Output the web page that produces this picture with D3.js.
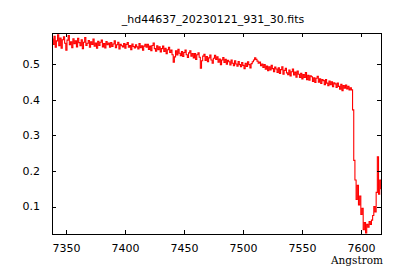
<!DOCTYPE html>
<html>
<head>
<meta charset="utf-8">
<script src="https://cdn.jsdelivr.net/npm/d3@7"></script>
<style>
  body { margin: 0; background: #fff; }
  svg { display: block; }
  text { fill: #000; }
</style>
</head>
<body>
<svg id="chart" width="400" height="280"></svg>
<script>
const title = '_hd44637_20230121_931_30.fits';
const xLabel = 'Angstrom';

const xTicks = [7350, 7400, 7450, 7500, 7550, 7600];
const yTicks = [0.1, 0.2, 0.3, 0.4, 0.5];

// continuum, 1 A sampling from 7338 to 7590
const contWave = d3.range(7338, 7591, 1);
const contFlux = [
    0.571, 0.556, 0.579, 0.548, 0.566, 0.583, 0.552, 0.574, 0.545, 0.569,
    0.577, 0.559, 0.540, 0.568, 0.581, 0.555, 0.563, 0.547, 0.572, 0.558,
    0.566, 0.549, 0.573, 0.561, 0.552, 0.569, 0.544, 0.562, 0.575, 0.553,
    0.559, 0.567, 0.548, 0.563, 0.556, 0.571, 0.551, 0.560, 0.545, 0.565,
    0.553, 0.562, 0.568, 0.549, 0.558, 0.546, 0.564, 0.555, 0.560, 0.548,
    0.561, 0.550, 0.557, 0.566, 0.547, 0.555, 0.562, 0.543, 0.556, 0.552,
    0.549, 0.558, 0.545, 0.556, 0.561, 0.548, 0.553, 0.541, 0.557, 0.550,
    0.546, 0.555, 0.549, 0.543, 0.558, 0.547, 0.552, 0.540, 0.551, 0.556,
    0.548, 0.556, 0.542, 0.551, 0.538, 0.553, 0.560, 0.544, 0.537, 0.552,
    0.541, 0.549, 0.535, 0.544, 0.551, 0.536, 0.545, 0.530, 0.541, 0.548,
    0.533, 0.540, 0.527, 0.506, 0.521, 0.538, 0.526, 0.542, 0.531, 0.524,
    0.536, 0.522, 0.533, 0.540, 0.527, 0.519, 0.532, 0.538, 0.523, 0.530,
    0.518, 0.530, 0.514, 0.527, 0.532, 0.520, 0.489, 0.510, 0.523, 0.528,
    0.511, 0.522, 0.507, 0.518, 0.526, 0.512, 0.503, 0.517, 0.525, 0.514,
    0.521, 0.506, 0.515, 0.499, 0.512, 0.519, 0.505, 0.514, 0.500, 0.511,
    0.507, 0.498, 0.512, 0.503, 0.496, 0.510, 0.501, 0.495, 0.508, 0.499,
    0.493, 0.505, 0.497, 0.488, 0.503, 0.494, 0.507, 0.499, 0.490, 0.502,
    0.507, 0.512, 0.518, 0.514, 0.509, 0.503, 0.506, 0.496, 0.501, 0.491,
    0.499, 0.486, 0.495, 0.482, 0.493, 0.484, 0.497, 0.488, 0.479, 0.492,
    0.487, 0.477, 0.490, 0.474, 0.485, 0.493, 0.472, 0.483, 0.489, 0.476,
    0.471, 0.484, 0.467, 0.479, 0.487, 0.470, 0.478, 0.464, 0.481, 0.472,
    0.463, 0.475, 0.459, 0.471, 0.463, 0.477, 0.457, 0.469, 0.455, 0.468,
    0.465, 0.452, 0.462, 0.449, 0.461, 0.466, 0.450, 0.459, 0.446, 0.457,
    0.454, 0.443, 0.457, 0.447, 0.440, 0.453, 0.443, 0.451, 0.437, 0.448,
    0.445, 0.435, 0.447, 0.438, 0.430, 0.444, 0.426, 0.440, 0.433, 0.442,
    0.431, 0.438, 0.428
];

// telluric A band, 1 A sampling from 7591
const bandWave = d3.range(7591, 7618, 1);
const bandFlux = [
    0.434, 0.428, 0.372, 0.230, 0.175, 0.120, 0.160, 0.105, 0.130, 0.078,
    0.095, 0.035, 0.055, 0.026, 0.050, 0.042, 0.058, 0.050, 0.062, 0.075,
    0.100, 0.085, 0.140, 0.240, 0.135, 0.175, 0.150
];

const data = [];
contWave.forEach((w, i) => data.push({ w: w, f: contFlux[i] }));
bandWave.forEach((w, i) => data.push({ w: w, f: bandFlux[i] }));

const margin = { left: 52, right: 19, top: 33, bottom: 46 };
const width = 400, height = 280;

const svg = d3.select('#chart');

const x = d3.scaleLinear()
    .domain([7337.8, 7616.6])
    .range([margin.left, width - margin.right]);

const y = d3.scaleLinear()
    .domain([0.023, 0.588])
    .range([height - margin.bottom, margin.top]);

const x0 = x.range()[0], x1 = x.range()[1];
const y0 = y.range()[0], y1 = y.range()[1];
const tickLen = 4;

// clip for the data line
svg.append('clipPath')
    .attr('id', 'clip')
    .append('rect')
    .attr('x', x0).attr('y', y1)
    .attr('width', x1 - x0).attr('height', y0 - y1);

const line = d3.line()
    .x(d => x(d.w))
    .y(d => y(d.f))
    .curve(d3.curveStep);

svg.append('path')
    .datum(data)
    .attr('clip-path', 'url(#clip)')
    .attr('fill', 'none')
    .attr('stroke', '#ff0000')
    .attr('stroke-width', 1.1)
    .attr('d', line);

// ticks, mirrored on both sides
const ticks = svg.append('g').attr('stroke', '#000').attr('stroke-width', 1);

xTicks.forEach(t => {
    const px = Math.round(x(t)) + 0.5;
    ticks.append('line').attr('x1', px).attr('x2', px).attr('y1', y0).attr('y2', y0 - tickLen);
    ticks.append('line').attr('x1', px).attr('x2', px).attr('y1', y1).attr('y2', y1 + tickLen);
});

yTicks.forEach(t => {
    const py = Math.round(y(t)) + 0.5;
    ticks.append('line').attr('x1', x0).attr('x2', x0 + tickLen).attr('y1', py).attr('y2', py);
    ticks.append('line').attr('x1', x1).attr('x2', x1 - tickLen).attr('y1', py).attr('y2', py);
});

// frame
svg.append('rect')
    .attr('x', Math.round(x0) + 0.5)
    .attr('y', Math.round(y1) + 0.5)
    .attr('width', Math.round(x1 - x0))
    .attr('height', Math.round(y0 - y1))
    .attr('fill', 'none')
    .attr('stroke', '#000')
    .attr('stroke-width', 1);

// tick labels
const labelFont = '"DejaVu Sans", sans-serif';

svg.append('g')
    .selectAll('text')
    .data(xTicks)
    .enter()
    .append('text')
    .attr('x', d => x(d))
    .attr('y', 252)
    .attr('text-anchor', 'middle')
    .style('font-family', labelFont)
    .style('font-size', '11px')
    .text(d => d);

svg.append('g')
    .selectAll('text')
    .data(yTicks)
    .enter()
    .append('text')
    .attr('x', 40)
    .attr('y', d => y(d))
    .attr('dy', '0.35em')
    .attr('text-anchor', 'end')
    .style('font-family', labelFont)
    .style('font-size', '11px')
    .text(d => d.toFixed(1));

svg.append('text')
    .attr('x', 213)
    .attr('y', 23)
    .attr('text-anchor', 'middle')
    .style('font-family', labelFont)
    .style('font-size', '11px')
    .text(title);

svg.append('text')
    .attr('x', 383)
    .attr('y', 264)
    .attr('text-anchor', 'end')
    .style('font-family', '"DejaVu Serif", serif')
    .style('font-size', '10.5px')
    .text(xLabel);
</script>
</body>
</html>
